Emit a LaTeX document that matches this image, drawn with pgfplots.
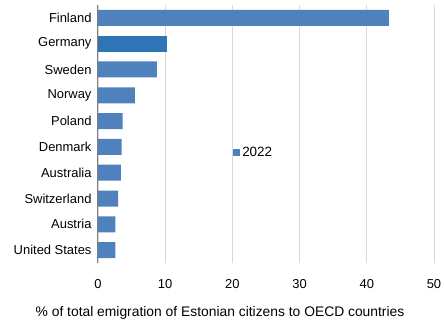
\documentclass[border=0pt]{standalone}
\usepackage{pgfplots}
\pgfplotsset{compat=1.18}
\usepackage{fontspec}
\setmainfont{Liberation Sans}
\definecolor{barblue}{HTML}{4F81BD}
\definecolor{gerblue}{HTML}{2E75B6}
\definecolor{gridgray}{HTML}{D9D9D9}
\definecolor{axisgray}{HTML}{7F7F7F}
\begin{document}
\begin{tikzpicture}
\useasboundingbox (-98bp,-59bp) rectangle (346bp,263bp);
\begin{axis}[
    scale only axis,
    width=336bp, height=258bp,
    xbar, bar width=16bp, bar shift=0pt,
    font=\fontsize{13}{15}\selectfont,
    /pgf/number format/assume math mode=true,
    xmin=0, xmax=50,
    xtick={0,10,20,30,40,50},
    ymin=-0.5, ymax=9.5, y dir=reverse,
    ytick={0,...,9},
    yticklabels={Finland,Germany,Sweden,Norway,Poland,Denmark,Australia,Switzerland,Austria,United States},
    axis lines*=left,
    x axis line style={draw=none},
    y axis line style={draw=axisgray, line width=1bp},
    major tick length=0pt,
    xmajorgrids=true,
    grid style={gridgray, line width=0.9bp},
    xticklabel style={yshift=-13bp},
    yticklabel style={xshift=-3bp},
    xlabel={\% of total emigration of Estonian citizens to OECD countries},
    xlabel style={yshift=-11bp, xshift=-46bp, font=\fontsize{13.9}{16}\selectfont},
    legend style={draw=none, fill=none, at={(0.402,0.43)}, anchor=west, inner sep=0pt,
        legend cell align=left, nodes={inner sep=2bp}, font=\fontsize{13.5}{16}\selectfont},
    legend image code/.code={\fill[barblue] (0bp,-3.5bp) rectangle (7bp,3.5bp);},
]
\addplot[fill=barblue, draw=none] coordinates {
    (43.3,0) (8.75,2) (5.5,3) (3.65,4) (3.5,5) (3.4,6) (3.0,7) (2.6,8) (2.6,9)
};
\addlegendentry{2022}
\addplot[fill=gerblue, draw=none, forget plot] coordinates {
    (10.25,1)
};
\end{axis}
\end{tikzpicture}
\end{document}
